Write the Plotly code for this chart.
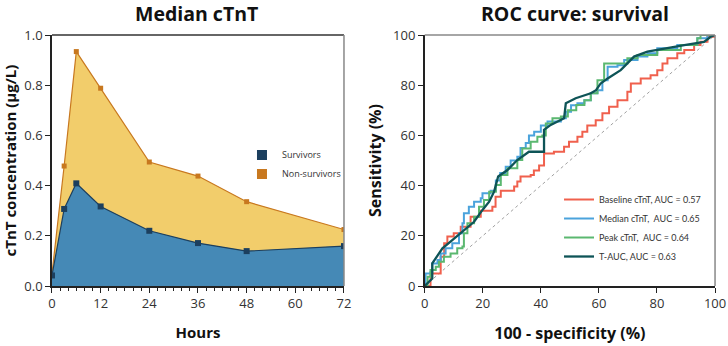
import plotly.graph_objects as go

# ---- Left chart data ----
hours = [0, 3, 6, 12, 24, 36, 48, 72]
non_survivors = [0.05, 0.478, 0.934, 0.788, 0.494, 0.438, 0.336, 0.225]
survivors = [0.042, 0.307, 0.409, 0.317, 0.22, 0.171, 0.139, 0.159]

# ---- ROC data (100 - specificity, sensitivity) ----
base_x = [0, 2, 5.5, 6.7, 7.8, 10, 12.4, 15.8, 19.3, 23.3, 24.4, 26.2, 30.8, 31.9, 33, 36.5, 37.6, 39.4, 41.1, 41.1, 44.5, 48, 49.7, 52.6, 54.3, 56, 58.9, 61.2, 63.5, 66.4, 69.8, 71, 74.4, 77.8, 80.1, 81.9, 83.6, 87, 89.4, 92.8, 95, 97.4, 100]
base_y = [0, 5, 11.7, 17, 19.7, 21, 23.6, 27.6, 30, 31.6, 35.6, 38, 39.6, 41.6, 43.6, 44.2, 46, 48, 49.5, 52.8, 53.5, 55.5, 57.5, 59.5, 61.5, 64, 66, 68.8, 71.4, 74, 77.4, 80.7, 82.7, 84, 86, 88.7, 90.7, 92.7, 94, 96, 97.3, 99.3, 100]

med_x = [0, 0.3, 2, 2.6, 4.4, 5.5, 7.2, 9.5, 11.8, 13, 13.5, 15.2, 17, 19.3, 19.9, 22.7, 24.5, 26, 27.9, 29.6, 31.9, 33, 34.8, 35.9, 37.7, 40, 42.3, 46.9, 48.6, 50.4, 52.6, 55, 57.2, 59.5, 61.2, 63, 66.4, 68.7, 73.3, 76.7, 80.1, 87, 93.9, 97.4, 100]
med_y = [0, 5, 5.7, 9, 10.4, 13, 15, 17, 21, 25, 29, 31.6, 33.6, 35, 37, 38, 42, 45, 47.5, 50, 51.5, 55, 57, 60, 61.5, 64, 65.5, 66.8, 69.4, 72, 72.8, 74, 76.8, 78, 82, 87.4, 88, 90, 91.4, 92.7, 94.7, 96, 98.7, 100, 100]

peak_x = [0, 1, 2, 3.8, 4.9, 6.6, 8.9, 11.2, 13, 13.5, 14.7, 17, 18.7, 20.4, 22.2, 24.5, 26.2, 28.5, 31.9, 33.6, 36.5, 38.8, 40.5, 41.7, 44, 46.9, 49.3, 52.2, 55, 57.2, 59.5, 61.8, 66.4, 69.8, 73.3, 80.1, 88.2, 93.9, 95, 100]
peak_y = [0, 3.7, 6.4, 7.7, 9.7, 11.7, 13, 15, 15.7, 21, 25, 27.6, 31.6, 34.3, 37.6, 40.2, 44.2, 46.9, 50.2, 54.8, 57.5, 59.5, 60, 64.7, 66.8, 67.5, 70, 72.1, 74, 76.8, 82, 88.7, 88.7, 90.7, 92, 94, 96, 98.7, 100, 100]

tauc_x = [0, 2.6, 2.6, 6.1, 9.5, 13.5, 17, 19.9, 22.2, 23.9, 25.3, 28.5, 31.9, 35.9, 41.1, 41.1, 43.4, 48, 48.6, 52, 57.2, 59, 60.6, 63, 65.8, 67.5, 69.8, 72.1, 76.7, 82.4, 89.4, 96.2, 98.5, 100]
tauc_y = [0, 3, 9, 15, 18.3, 22.3, 25.6, 30.3, 33.6, 37.6, 43.6, 46.2, 50.2, 53.5, 53.5, 62.2, 64.2, 66.8, 72.8, 74.8, 76.8, 78, 80.7, 82.7, 84.7, 86, 88.7, 91.4, 93.4, 94.7, 96, 97.3, 99.3, 100]

ref_line = [0, 100]

FONT = "Open Sans"

fig = go.Figure()

# Left chart
fig.add_trace(go.Scatter(x=hours, y=non_survivors, mode="lines+markers", fill="tozeroy",
                         fillcolor="#F2CD6B", line=dict(color="#C8781F", width=1.2),
                         marker=dict(symbol="square", size=5, color="#C8781F"),
                         showlegend=False, xaxis="x", yaxis="y"))
fig.add_trace(go.Scatter(x=hours, y=survivors, mode="lines+markers", fill="tozeroy",
                         fillcolor="#4589B6", line=dict(color="#1C3F5E", width=1.2),
                         marker=dict(symbol="square", size=6, color="#1C3F5E"),
                         showlegend=False, xaxis="x", yaxis="y"))
fig.add_trace(go.Scatter(x=[None], y=[None], mode="markers", name="Survivors",
                         marker=dict(symbol="square", size=10, color="#1C3F5E"),
                         legend="legend", xaxis="x", yaxis="y"))
fig.add_trace(go.Scatter(x=[None], y=[None], mode="markers", name="Non-survivors",
                         marker=dict(symbol="square", size=10, color="#C8781F"),
                         legend="legend", xaxis="x", yaxis="y"))

# Right chart
fig.add_trace(go.Scatter(x=ref_line, y=ref_line, mode="lines", showlegend=False,
                         line=dict(color="#777777", width=0.7, dash="dot"),
                         xaxis="x2", yaxis="y2"))
fig.add_trace(go.Scatter(x=base_x, y=base_y, mode="lines", line_shape="hv",
                         name="Baseline cTnT, AUC = 0.57", line=dict(color="#F0604D", width=2),
                         legend="legend2", xaxis="x2", yaxis="y2"))
fig.add_trace(go.Scatter(x=med_x, y=med_y, mode="lines", line_shape="hv",
                         name="Median cTnT,  AUC = 0.65", line=dict(color="#4BA3DC", width=2),
                         legend="legend2", xaxis="x2", yaxis="y2"))
fig.add_trace(go.Scatter(x=peak_x, y=peak_y, mode="lines", line_shape="hv",
                         name="Peak cTnT,  AUC = 0.64", line=dict(color="#5BB870", width=2),
                         legend="legend2", xaxis="x2", yaxis="y2"))
fig.add_trace(go.Scatter(x=tauc_x, y=tauc_y, mode="lines",
                         name="T-AUC, AUC = 0.63", line=dict(color="#0E5457", width=2.3),
                         legend="legend2", xaxis="x2", yaxis="y2"))

axis_common = dict(showgrid=False, zeroline=False, showline=True, linecolor="#222222",
                   linewidth=1.5, ticks="outside", ticklen=5, tickwidth=1.2, tickcolor="#222222",
                   automargin=False,
                   tickfont=dict(family=FONT, size=13, color="#333333"))

fig.update_layout(
    width=728, height=346,
    margin=dict(l=0, r=0, t=0, b=0, autoexpand=False),
    paper_bgcolor="white", plot_bgcolor="white",
    font=dict(family=FONT, color="#111111"),
    xaxis=dict(domain=[0.0714, 0.4725], range=[0, 72], tickvals=[0, 12, 24, 36, 48, 60, 72],
               minor=dict(dtick=2, ticks="outside", ticklen=3, tickcolor="#222222"),
               title=dict(text="<b>Hours</b>", font=dict(family=FONT, size=15), standoff=16),
               anchor="y", mirror=False, **axis_common),
    yaxis=dict(domain=[0.1734, 0.8988], range=[0, 1], dtick=0.2, tickformat=".1f",
               title=dict(text="<b>cTnT concentration (μg/L)</b>", font=dict(family=FONT, size=15), standoff=15),
               anchor="x", **axis_common),
    xaxis2=dict(domain=[0.5834, 0.9822], range=[0, 100], dtick=20,
                title=dict(text="<b>100 - specificity (%)</b>", font=dict(family=FONT, size=16), standoff=16),
                anchor="y2", **axis_common),
    yaxis2=dict(domain=[0.1734, 0.8988], range=[0, 100], dtick=20,
                title=dict(text="<b>Sensitivity (%)</b>", font=dict(family=FONT, size=16), standoff=7),
                anchor="x2", **axis_common),
    legend=dict(x=0.3324, y=0.594, xanchor="left", yanchor="top", bgcolor="rgba(0,0,0,0)",
                font=dict(family=FONT, size=9, color="#333333"), itemwidth=30, tracegroupgap=6),
    legend2=dict(x=0.7679, y=0.4653, xanchor="left", yanchor="top", bgcolor="rgba(0,0,0,0)",
                 font=dict(family="Lato", size=9, color="#333333"), itemwidth=30),
    annotations=[
        dict(text="<b>Median cTnT</b>", x=0.2703, y=1.0, xref="paper", yref="paper", yshift=2,
             xanchor="center", yanchor="top", showarrow=False, font=dict(family=FONT, size=19.5, color="#111111")),
        dict(text="<b>ROC curve: survival</b>", x=0.7905, y=1.0, xref="paper", yref="paper", yshift=2,
             xanchor="center", yanchor="top", showarrow=False, font=dict(family=FONT, size=19.5, color="#111111")),
    ],
    shapes=[
        dict(type="line", xref="x domain", yref="y domain", x0=0, x1=1, y0=1, y1=1,
             line=dict(color="#333333", width=1.5)),
        dict(type="line", xref="x domain", yref="y domain", x0=1, x1=1, y0=0, y1=1,
             line=dict(color="#888888", width=1.5)),
        dict(type="line", xref="x2 domain", yref="y2 domain", x0=0, x1=1, y0=1, y1=1,
             line=dict(color="#888888", width=1.5)),
        dict(type="line", xref="x2 domain", yref="y2 domain", x0=1, x1=1, y0=0, y1=1,
             line=dict(color="#888888", width=1.5)),
    ],
)

fig.write_html("out.html", config={"displayModeBar": False},
               post_script="document.body.style.margin='0px';")
